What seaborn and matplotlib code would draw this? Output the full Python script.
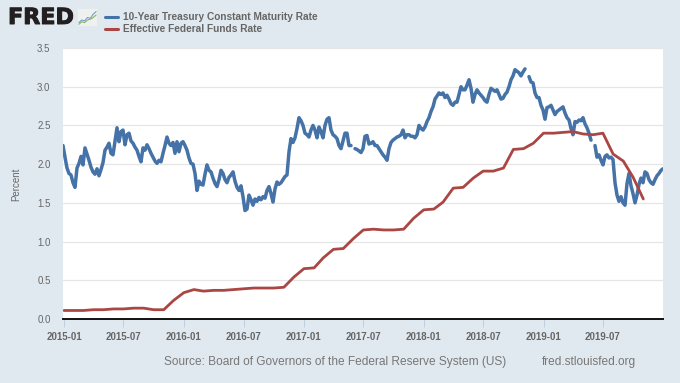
import numpy as np
import pandas as pd
import matplotlib.pyplot as plt
import matplotlib.dates as mdates
import matplotlib.patheffects as pe
import seaborn as sns

nan = np.nan

# 10-year yield, evenly spaced in time (nan = gap in the line)
ten_year = [
    2.24, 2.09, 1.95, 1.88, 1.86, 1.76, 1.70, 1.95, 2.01, 2.10,
    1.99, 2.21, 2.13, 2.05, 1.96, 1.90, 1.87, 1.94, 1.85, 1.93,
    2.02, 2.18, 2.22, 2.27, 2.14, 2.12, 2.30, 2.47, 2.29, 2.42,
    2.44, 2.25, 2.38, 2.40, 2.30, 2.27, 2.22, 2.18, 2.10, 2.03,
    2.21, 2.18, 2.25, 2.20, 2.14, 2.09, 2.04, 2.01, 2.05, 2.03,
    2.14, 2.24, 2.35, 2.27, 2.24, 2.28, 2.14, 2.29, 2.16, 2.27,
    2.29, 2.24, 2.18, 2.08, 2.01, 2.00, 1.88, 1.66, 1.78, 1.74,
    1.73, 1.87, 1.99, 1.92, 1.90, 1.82, 1.75, 1.71, 1.80, 1.92,
    1.88, 1.80, 1.76, 1.83, 1.86, 1.90, 1.78, 1.70, 1.66, 1.72,
    1.58, 1.40, 1.42, 1.60, 1.54, 1.47, 1.55, 1.52, 1.57, 1.54,
    1.58, 1.56, 1.66, 1.71, 1.62, 1.51, 1.68, 1.77, 1.74, 1.76,
    1.80, 1.84, 1.86, 2.16, 2.33, 2.28, 2.34, 2.46, 2.60, 2.56,
    2.50, 2.40, 2.38, 2.35, 2.44, 2.50, 2.44, 2.34, 2.48, 2.42,
    2.34, 2.50, 2.58, 2.60, 2.44, 2.38, 2.36, 2.33, 2.24, 2.20,
    2.30, 2.40, 2.40, 2.24, 2.24, nan, 2.20, 2.19, 2.17, 2.15,
    2.20, 2.36, 2.37, 2.26, 2.27, 2.29, 2.24, 2.24, 2.20, 2.16,
    2.12, 2.09, 2.05, 2.20, 2.28, 2.31, 2.33, 2.35, 2.36, 2.38,
    2.44, 2.34, 2.38, 2.38, 2.36, 2.36, 2.34, 2.38, 2.50, 2.46,
    2.44, 2.48, 2.55, 2.60, 2.68, 2.74, 2.84, 2.88, 2.92, 2.90,
    2.92, 2.86, 2.89, 2.84, 2.78, 2.76, 2.80, 2.80, 2.90, 3.00,
    2.96, 2.96, 3.02, 3.09, 2.98, 2.80, 2.90, 2.96, 2.92, 2.89,
    2.86, 2.82, 2.80, 2.90, 2.98, 2.96, 2.94, 2.96, 2.90, 2.84,
    2.85, 2.90, 2.93, 3.00, 3.09, 3.14, 3.22, 3.20, 3.18, 3.14,
    3.19, 3.23, nan, 3.13, 3.06, 3.05, 2.92, 2.86, 2.86, 2.76,
    2.70, 2.58, 2.73, 2.74, 2.76, 2.70, 2.64, 2.68, 2.70, 2.72,
    2.74, 2.66, 2.60, 2.57, 2.46, 2.38, 2.55, 2.54, 2.57, 2.56,
    2.60, 2.52, 2.47, 2.40, 2.31, nan, 2.24, 2.09, 2.12, 2.05,
    1.99, 2.10, 2.12, 2.08, 2.09, 2.06, 1.76, 1.60, 1.52, 1.58,
    1.50, 1.47, 1.75, 1.88, 1.72, 1.62, 1.50, 1.60, 1.74, 1.82,
    1.76, 1.90, 1.88, 1.80, 1.76, 1.74, 1.80, 1.85, 1.88, 1.92,
    1.94,
]

# effective fed funds rate, monthly
fed_funds = [
    0.11, 0.11, 0.11, 0.12, 0.12, 0.13, 0.13, 0.14, 0.14, 0.12, 0.12, 0.24,
    0.34, 0.38, 0.36, 0.37, 0.37, 0.38, 0.39, 0.40, 0.40, 0.40, 0.41, 0.54,
    0.65, 0.66, 0.79, 0.90, 0.91, 1.04, 1.15, 1.16, 1.15, 1.15, 1.16, 1.30,
    1.41, 1.42, 1.51, 1.69, 1.70, 1.82, 1.91, 1.91, 1.95, 2.19, 2.20, 2.27,
    2.40, 2.40, 2.41, 2.42, 2.39, 2.38, 2.40, 2.13, 2.04, 1.83, 1.55,
]

y_ticks = [0.0, 0.5, 1.0, 1.5, 2.0, 2.5, 3.0, 3.5]
x_ticks = ["2015-01", "2015-07", "2016-01", "2016-07", "2017-01", "2017-07", "2018-01", "2018-07", "2019-01", "2019-07"]

# little trend lines of the logo icon
icon_blue = [0.2, 0.35, 0.3, 0.5, 0.45, 0.7, 0.85]
icon_green = [0.1, 0.25, 0.2, 0.35, 0.4, 0.5, 0.65]

BLUE = "#4572A7"
RED = "#AA4643"
BG = "#E1E9F0"
GREY = "#666666"

sns.set_theme(style="white")
plt.rcParams["font.family"] = ["Liberation Sans", "DejaVu Sans"]

df_ten = pd.DataFrame({
    "date": pd.date_range("2014-12-29", "2019-12-31", periods=len(ten_year)),
    "rate": ten_year,
})
# every nan starts a new piece, so the line breaks there
df_ten["piece"] = df_ten["rate"].isna().cumsum()
df_ff = pd.DataFrame({
    "date": pd.date_range("2015-01-01", periods=len(fed_funds), freq="MS"),
    "rate": fed_funds,
})

W, H = 680, 383
fig = plt.figure(figsize=(W / 100, H / 100), dpi=100, facecolor=BG)
ax = fig.add_axes([63 / W, 1 - 319 / H, 600 / W, 271 / H], facecolor="white")

sns.lineplot(data=df_ten, x="date", y="rate", units="piece", estimator=None,
             color=BLUE, linewidth=2.5, ax=ax, zorder=3)
sns.lineplot(data=df_ff, x="date", y="rate", color=RED, linewidth=2.0, ax=ax, zorder=4)

ax.set_xlim(pd.Timestamp("2014-12-29"), pd.Timestamp("2019-12-31"))
ax.set_ylim(0, 3.5)
ax.set_yticks(y_ticks)
ax.set_yticklabels([f"{v:.1f}" for v in y_ticks], fontsize=7, color=GREY)
ax.set_xticks([pd.Timestamp(t + "-01") for t in x_ticks])
ax.xaxis.set_major_formatter(mdates.DateFormatter("%Y-%m"))
ax.tick_params(axis="x", length=6, width=0.8, color="#C0D0E0", labelsize=7, labelcolor=GREY, pad=3, bottom=True)
ax.tick_params(axis="y", length=0, pad=9)
for lab in ax.get_xticklabels():
    lab.set_fontweight("bold")
ax.grid(axis="y", color="#E6E6E6", linewidth=0.9)
ax.set_axisbelow(True)
ax.set_xlabel("")
ax.set_ylabel("")
for s in ["top", "left", "right"]:
    ax.spines[s].set_visible(False)
ax.spines["bottom"].set_color("#111111")
ax.spines["bottom"].set_linewidth(1.4)
ax.spines["bottom"].set_zorder(6)

fig.text(16 / W, 1 - 184 / H, "Percent", rotation=90, fontsize=7, color=GREY, ha="center", va="center")

# legend, placed by hand next to the logo
fig.add_artist(plt.Line2D([105 / W, 118 / W], [1 - 17 / H] * 2, color=BLUE, linewidth=2.2))
fig.add_artist(plt.Line2D([105 / W, 118 / W], [1 - 29 / H] * 2, color=RED, linewidth=2.2))
fig.text(123 / W, 1 - 17 / H, "10-Year Treasury Constant Maturity Rate", fontsize=7.3, fontweight="bold", color=GREY, va="center")
fig.text(123 / W, 1 - 29 / H, "Effective Federal Funds Rate", fontsize=7.3, fontweight="bold", color=GREY, va="center")

# logo
logo = fig.text(8 / W, 1 - 18 / H, "FRED", fontsize=16, fontweight="bold", family="DejaVu Sans", color="#231F20", va="center")
logo.set_path_effects([pe.withStroke(linewidth=0.7, foreground="#231F20")])
icon = fig.add_axes([78 / W, 1 - 26 / H, 19 / W, 17 / H], facecolor="#EEF1EE")
icon.plot(icon_blue, color="#7A9CC6", linewidth=0.8)
icon.plot(icon_green, color="#8DB36A", linewidth=0.8)
icon.set_xticks([])
icon.set_yticks([])
icon.set_ylim(0, 1)
sns.despine(ax=icon, left=True, bottom=True)

fig.text(164 / W, 1 - 362 / H, "Source: Board of Governors of the Federal Reserve System (US)", fontsize=8.6, color="#777777", va="center")
fig.text(542 / W, 1 - 362 / H, "fred.stlouisfed.org", fontsize=8.6, color="#777777", va="center")

fig.savefig("out.png", dpi=100, facecolor=BG)
